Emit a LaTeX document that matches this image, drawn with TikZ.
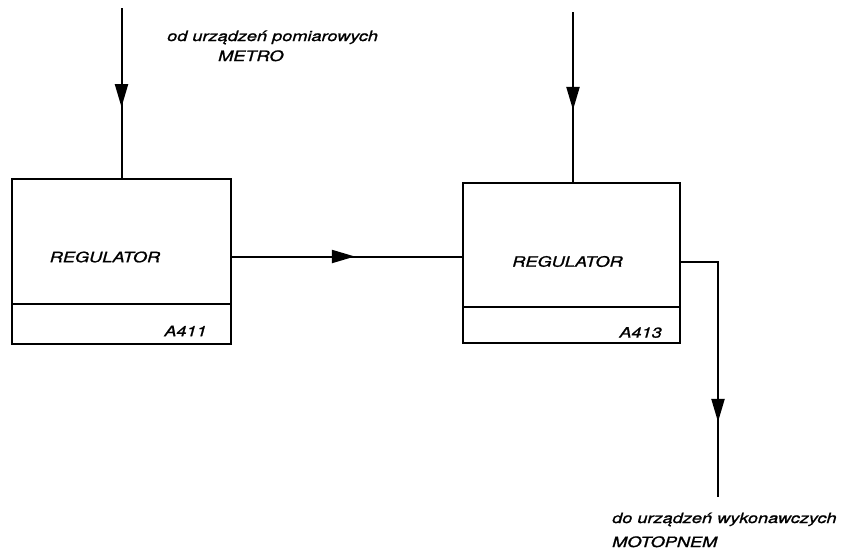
\documentclass[tikz,border=0pt]{standalone}
\usepackage{fontspec}
\setmainfont{TeX Gyre Heros}[FakeStretch=1.27,FakeBold=1.2]
\usepackage{tikz}
\usetikzlibrary{arrows.meta,positioning,decorations.markings}

\begin{document}
\begin{tikzpicture}[
  x=1pt, y=-1pt,
  block/.style={
    draw,
    line width=2.4pt,
    inner sep=0pt,
    outer sep=0pt,
    minimum width=219pt,
    minimum height=125pt
  },
  tagblock/.style={
    draw,
    line width=2.4pt,
    inner sep=0pt,
    outer sep=0pt,
    minimum width=219pt,
    minimum height=40pt
  },
  lbl/.style={
    inner sep=0pt,
    font=\fontsize{14.3}{17}\selectfont\itshape
  },
  flow/.style={
    line width=2pt,
    postaction={decorate},
    decoration={markings,
      mark=at position #1 with {\arrow{Triangle[length=23pt,width=13pt]}}}
  },
  flow/.default=0.55
]
\useasboundingbox (0,0) rectangle (843,555);

% --- Regulators ---
\node[block] (reg1) at (121.5,241.5) {};
\node[tagblock,below=0pt of reg1] (tag1) {};

\node[block,minimum width=217pt,minimum height=124pt] (reg2) at (571.5,245) {};
\node[tagblock,minimum width=217pt,minimum height=36pt,below=0pt of reg2] (tag2) {};

\node[lbl] (name1) at ([xshift=-16.5pt,yshift=-15.5pt]reg1.center) {REGULATOR};
\node[lbl] (name2) at ([xshift=-4pt,yshift=-16.5pt]reg2.center) {REGULATOR};

\node[lbl,anchor=east] (id1) at ([xshift=-24pt,yshift=-7pt]tag1.east) {A411};
\node[lbl,anchor=east] (id2) at ([xshift=-18pt,yshift=-7.5pt]tag2.east) {A413};

% --- Free ends ---
\coordinate (in1) at (121.5,8);
\coordinate (in2) at (573,12);
\coordinate (out) at (718,497);

% Arrows
\draw[flow=0.58] (in1) -- (reg1.north);
\draw[flow=0.573] (in2) -- (in2 |- reg2.north);
\draw[flow=0.534] ([yshift=-15pt]reg1.east) -- ([yshift=-15pt]reg1.east -| reg2.west);
\draw[flow=0.725] ([yshift=-17pt]reg2.east) -| (out);

% Notes
\node[lbl,anchor=base west] (src) at (167,41) {od urządzeń pomiarowych};
\node[lbl,anchor=base west] (srcname) at (218,61) {METRO};
\node[lbl,anchor=base west] (dst) at (612,523) {do urządzeń wykonawczych};
\node[lbl,anchor=base west] (dstname) at ([yshift=-24pt]dst.base west) {MOTOPNEM};

\end{tikzpicture}
\end{document}
